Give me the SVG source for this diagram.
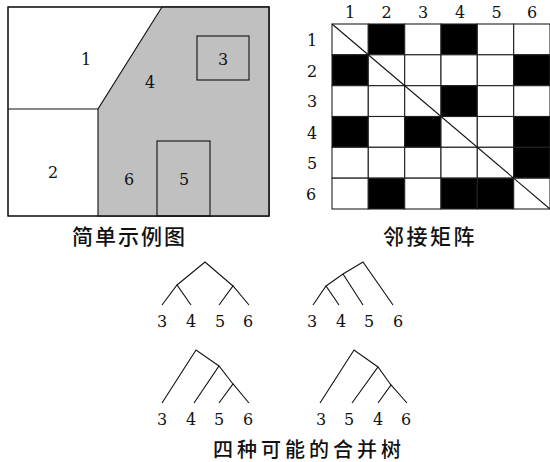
<svg xmlns="http://www.w3.org/2000/svg" width="550" height="462" viewBox="0 0 550 462">
<style>
.ln{stroke:#111;stroke-width:1.1;fill:none}
.g{fill:#c0c0c0;stroke:#111;stroke-width:1.1}
.w{fill:#fff;stroke:#222;stroke-width:1.1}
.b{fill:#000;stroke:#222;stroke-width:1.1}
.d{font-family:"DejaVu Serif","Liberation Serif",serif;font-size:16px;fill:#111;text-anchor:middle}
.cap{font-family:"Noto Sans CJK SC","Noto Sans CJK JP",sans-serif;font-weight:500;fill:#111}
</style>
<rect width="550" height="462" fill="#fff"/>
<!-- Simple example map -->
<g id="map">
  <rect class="w" x="8" y="7" width="261" height="209"/>
  <polygon class="g" points="162,7 269,7 269,216 98,216 98,109"/>
  <line class="ln" x1="8" y1="109" x2="98" y2="109"/>
  <rect class="ln" x="197" y="36" width="52" height="44"/>
  <rect class="ln" x="157" y="141" width="53" height="75"/>
  <rect class="ln" x="8" y="7" width="261" height="209"/>
  <text class="d" x="86" y="65">1</text>
  <text class="d" x="150" y="88">4</text>
  <text class="d" x="223" y="65">3</text>
  <text class="d" x="53" y="178">2</text>
  <text class="d" x="129" y="185">6</text>
  <text class="d" x="184" y="185">5</text>
</g>
<!-- Adjacency matrix -->
<g id="matrix">
  <g>
    <rect class="w" x="332" y="24" width="36.3" height="30.8"/>
    <rect class="b" x="368.3" y="24" width="36.3" height="30.8"/>
    <rect class="w" x="404.7" y="24" width="36.3" height="30.8"/>
    <rect class="b" x="441" y="24" width="36.3" height="30.8"/>
    <rect class="w" x="477.3" y="24" width="36.3" height="30.8"/>
    <rect class="w" x="513.7" y="24" width="36.3" height="30.8"/>

    <rect class="b" x="332" y="54.8" width="36.3" height="30.8"/>
    <rect class="w" x="368.3" y="54.8" width="36.3" height="30.8"/>
    <rect class="w" x="404.7" y="54.8" width="36.3" height="30.8"/>
    <rect class="w" x="441" y="54.8" width="36.3" height="30.8"/>
    <rect class="w" x="477.3" y="54.8" width="36.3" height="30.8"/>
    <rect class="b" x="513.7" y="54.8" width="36.3" height="30.8"/>

    <rect class="w" x="332" y="85.7" width="36.3" height="30.8"/>
    <rect class="w" x="368.3" y="85.7" width="36.3" height="30.8"/>
    <rect class="w" x="404.7" y="85.7" width="36.3" height="30.8"/>
    <rect class="b" x="441" y="85.7" width="36.3" height="30.8"/>
    <rect class="w" x="477.3" y="85.7" width="36.3" height="30.8"/>
    <rect class="w" x="513.7" y="85.7" width="36.3" height="30.8"/>

    <rect class="b" x="332" y="116.5" width="36.3" height="30.8"/>
    <rect class="w" x="368.3" y="116.5" width="36.3" height="30.8"/>
    <rect class="b" x="404.7" y="116.5" width="36.3" height="30.8"/>
    <rect class="w" x="441" y="116.5" width="36.3" height="30.8"/>
    <rect class="w" x="477.3" y="116.5" width="36.3" height="30.8"/>
    <rect class="b" x="513.7" y="116.5" width="36.3" height="30.8"/>

    <rect class="w" x="332" y="147.3" width="36.3" height="30.8"/>
    <rect class="w" x="368.3" y="147.3" width="36.3" height="30.8"/>
    <rect class="w" x="404.7" y="147.3" width="36.3" height="30.8"/>
    <rect class="w" x="441" y="147.3" width="36.3" height="30.8"/>
    <rect class="w" x="477.3" y="147.3" width="36.3" height="30.8"/>
    <rect class="b" x="513.7" y="147.3" width="36.3" height="30.8"/>

    <rect class="w" x="332" y="178.2" width="36.3" height="30.8"/>
    <rect class="b" x="368.3" y="178.2" width="36.3" height="30.8"/>
    <rect class="w" x="404.7" y="178.2" width="36.3" height="30.8"/>
    <rect class="b" x="441" y="178.2" width="36.3" height="30.8"/>
    <rect class="b" x="477.3" y="178.2" width="36.3" height="30.8"/>
    <rect class="w" x="513.7" y="178.2" width="36.3" height="30.8"/>
  </g>
  <line class="ln" x1="332" y1="24" x2="550" y2="209" stroke-width="1"/>
  <text class="d" x="350" y="18">1</text>
  <text class="d" x="386.5" y="18">2</text>
  <text class="d" x="423" y="18">3</text>
  <text class="d" x="460" y="18">4</text>
  <text class="d" x="496.5" y="18">5</text>
  <text class="d" x="532" y="18">6</text>
  <text class="d" x="312" y="45.5">1</text>
  <text class="d" x="312" y="76.5">2</text>
  <text class="d" x="312" y="107">3</text>
  <text class="d" x="312" y="138.5">4</text>
  <text class="d" x="312" y="169">5</text>
  <text class="d" x="311" y="199.5">6</text>
</g>
<!-- Captions -->
<text class="cap" x="72" y="244" font-size="21" letter-spacing="2">简单示例图</text>
<text class="cap" x="383" y="244" font-size="21" letter-spacing="2.5">邻接矩阵</text>
<text class="cap" x="213" y="457" font-size="20" letter-spacing="4">四种可能的合并树</text>
<!-- Trees: connectors -->
<g id="connectors" class="ln">
  <polyline points="177,285 205,262 233,286"/>
  <polyline points="162,305 177,285 191,305"/>
  <polyline points="219,305 233,286 249,305"/>

  <polyline points="343,274 363,262 393,305"/>
  <polyline points="326,286 343,274 363,305"/>
  <polyline points="313,305 326,286 339,305"/>

  <polyline points="162,403 196,350 219,366"/>
  <polyline points="194,403 219,366 233,384"/>
  <polyline points="219,403 233,384 249,403"/>

  <polyline points="320,403 354,350 378,367"/>
  <polyline points="352,403 378,367 391,385"/>
  <polyline points="378,403 391,385 407,403"/>
</g>
<g id="tree1">
  <text class="d" x="162" y="327">3</text>
  <text class="d" x="191" y="327">4</text>
  <text class="d" x="220" y="327">5</text>
  <text class="d" x="248" y="327">6</text>
</g>
<g id="tree2">
  <text class="d" x="312" y="327">3</text>
  <text class="d" x="341" y="327">4</text>
  <text class="d" x="369" y="327">5</text>
  <text class="d" x="398" y="327">6</text>
</g>
<g id="tree3">
  <text class="d" x="162" y="425">3</text>
  <text class="d" x="191" y="425">4</text>
  <text class="d" x="219" y="425">5</text>
  <text class="d" x="248" y="425">6</text>
</g>
<g id="tree4">
  <text class="d" x="321" y="425">3</text>
  <text class="d" x="349" y="425">5</text>
  <text class="d" x="378" y="425">4</text>
  <text class="d" x="406" y="425">6</text>
</g>
</svg>
